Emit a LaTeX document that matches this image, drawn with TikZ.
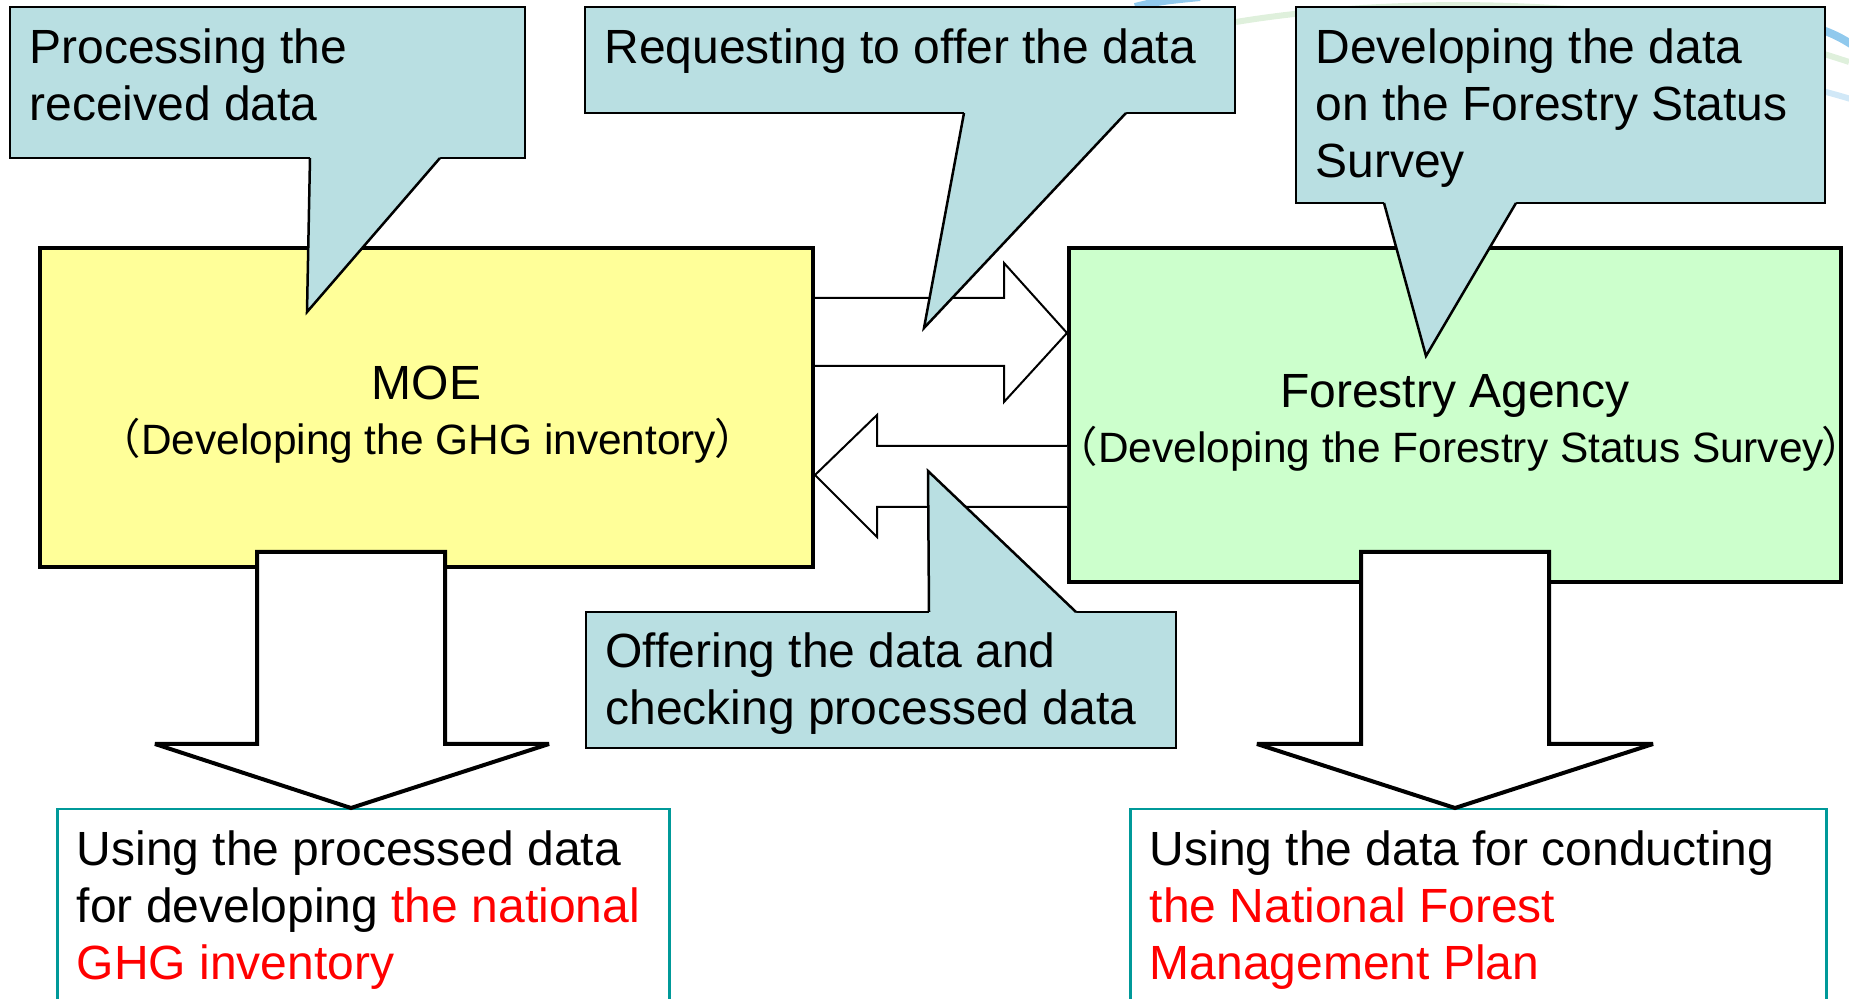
\documentclass[tikz,border=0pt]{standalone}
\usepackage{fontspec}
\setmainfont{Liberation Sans}
\newfontfamily\cjkfont{Noto Sans CJK JP}
\usetikzlibrary{calc}

\definecolor{noteblue}{RGB}{185,223,226}
\definecolor{moeyellow}{HTML}{FFFF99}
\definecolor{fagreen}{HTML}{CCFFCC}
\definecolor{useteal}{HTML}{009999}
\definecolor{usered}{HTML}{FF0000}
\definecolor{swooshblue}{RGB}{70,165,225}
\definecolor{swooshgreen}{RGB}{150,205,140}

% full-width brackets, kept narrow so the text fits its box
\newcommand{\fwparen}[1]{\makebox[0.4em][r]{\cjkfont （}#1\kern-0.05em\makebox[0.35em][l]{\cjkfont ）}}

\begin{document}
\begin{tikzpicture}[
    x=0.5pt, y=-0.5pt,
    every node/.style={font=\fontsize{24}{28.5}\selectfont},
    org/.style={draw, line width=2pt, align=flush center, inner sep=0pt,
        text height=17pt, font=\fontsize{24}{27.25}\selectfont},
    note/.style={draw, fill=noteblue, line width=1.25pt, align=flush left,
        inner xsep=9.75pt, inner ysep=0pt, text height=17pt},
    use/.style={draw=useteal, fill=white, line width=1.25pt, align=flush left,
        anchor=north west, inner xsep=9.75pt, inner ysep=10.5pt, text depth=90pt},
    tailline/.style={line width=1.25pt},
    bigarrow/.style={draw, fill=white, line width=1pt},
    downarrow/.style={draw, fill=white, line width=2pt, miter limit=4}
]
    \useasboundingbox (0,0) rectangle (1849,999);

    % 0. Faint slide decoration, top right
    \draw[swooshblue, line width=4pt, opacity=0.6] (1135,7) .. controls (1160,1) .. (1200,-3);
    \draw[swooshgreen, line width=3pt, opacity=0.3] (1236,22) .. controls (1400,-5) and (1650,-5) .. (1849,62);
    \draw[swooshblue, line width=4pt, opacity=0.6] (1800,24) .. controls (1830,30) and (1845,40) .. (1860,50);
    \draw[swooshblue, line width=3pt, opacity=0.25] (1700,62) .. controls (1780,80) and (1830,92) .. (1860,102);

    % 1. The two organisations
    \node[org, fill=moeyellow, text width=386.5pt, minimum height=159.5pt, text depth=24.5pt] (MOE) at (426.5,407.5)
        {MOE\\\makebox[\linewidth]{\fontsize{21.2}{27.25}\selectfont\fwparen{Developing the GHG inventory}}};
    \node[org, fill=fagreen, text width=386pt, minimum height=167pt, text depth=24pt] (FA) at (1455,415)
        {Forestry Agency\\\makebox[\linewidth]{\hspace{4pt}\fontsize{21.2}{27.25}\selectfont\fwparen{Developing the Forestry Status Survey}}};

    % 2. Block arrows between them
    % MOE -> FA (request)
    \filldraw[bigarrow] (MOE.east |- 0,298) -- (1004,298) -- (1004,263) -- (FA.west |- 0,333)
        -- (1004,402) -- (1004,366) -- (MOE.east |- 0,366);
    % FA -> MOE (offer)
    \filldraw[bigarrow] (FA.west |- 0,446) -- (877,446) -- (877,415) -- (MOE.east |- 0,475)
        -- (877,537) -- (877,507) -- (FA.west |- 0,507);

    % 3. Where the data ends up
    \node[use, text width=286.5pt] (UseL) at (56,808)
        {Using the processed data\\for developing \textcolor{usered}{the national}\\\textcolor{usered}{GHG inventory}};
    \node[use, text width=328.5pt] (UseR) at (1129,808)
        {Using the data for conducting\\\textcolor{usered}{the National Forest}\\\textcolor{usered}{Management Plan}};

    \filldraw[downarrow] (257,552) -- (445,552) -- (445,744) -- (549,744) -- (351,0 |- UseL.north)
        -- (155,744) -- (257,744) -- cycle;
    \filldraw[downarrow] (1361,552) -- (1549,552) -- (1549,744) -- (1653,744) -- (1455,0 |- UseR.north)
        -- (1257,744) -- (1361,744) -- cycle;

    % 4. Callouts
    \node[note, text width=238pt, minimum height=75.5pt, text depth=35.5pt] (Proc) at (267.5,82.5)
        {Processing the\\received data};
    \node[note, text width=305.5pt, minimum height=53pt, text depth=13pt] (Ask) at (910,60)
        {Requesting to offer the data};
    \node[note, text width=245pt, minimum height=98pt, text depth=58pt] (Dev) at (1560.5,105)
        {Developing the data\\on the Forestry Status\\Survey};
    \node[note, text width=275.5pt, minimum height=68pt, text depth=29pt] (Offer) at (881,680)
        {Offering the data and\\checking processed data};

    % callout tails
    \coordinate (ProcTip) at (307,312);
    \fill[noteblue] (310,154) -- (310,158) -- (ProcTip) -- (440,158) -- (440,154) -- cycle;
    \draw[tailline] (310,158) -- (ProcTip) -- (440,158);

    \coordinate (AskTip) at (924,328);
    \fill[noteblue] (964,109) -- (964,113) -- (AskTip) -- (1126,113) -- (1126,109) -- cycle;
    \draw[tailline] (964,113) -- (AskTip) -- (1126,113);

    \coordinate (DevTip) at (1426,356);
    \fill[noteblue] (1384,199) -- (1384,203) -- (DevTip) -- (1516,203) -- (1516,199) -- cycle;
    \draw[tailline] (1384,203) -- (DevTip) -- (1516,203);

    \coordinate (OfferTip) at (928,471);
    \fill[noteblue] (929,616) -- (929,612) -- (OfferTip) -- (1076,612) -- (1076,616) -- cycle;
    \draw[tailline] (929,612) -- (OfferTip) -- (1076,612);

\end{tikzpicture}
\end{document}
